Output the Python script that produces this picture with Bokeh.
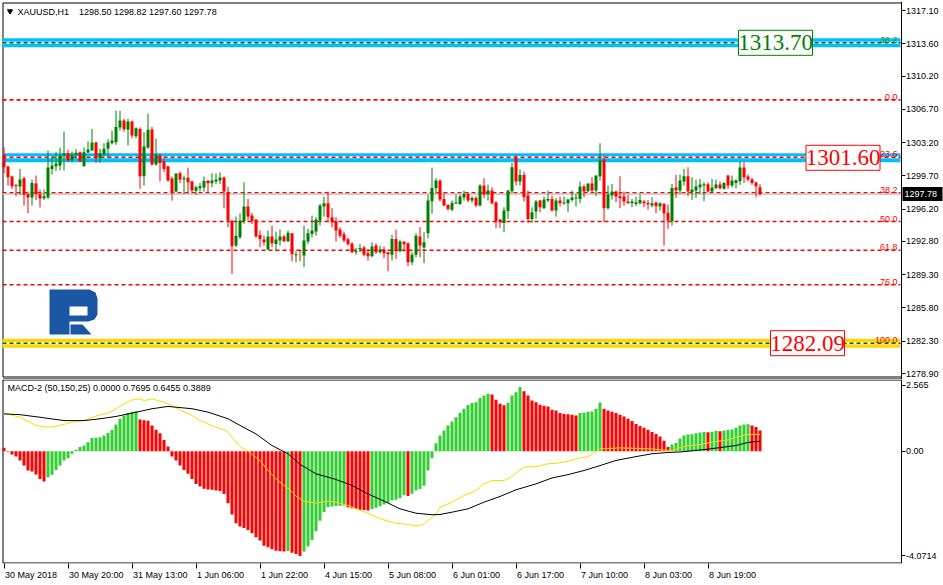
import numpy as np
from bokeh.plotting import figure
from bokeh.layouts import column
from bokeh.models import Range1d, Label, FixedTicker
from bokeh.core.properties import value
from bokeh.embed import file_html
from bokeh.resources import INLINE

# ---------------- data ----------------
symbol = "XAUUSD,H1"
last_ohlc = ["1298.50", "1298.82", "1297.60", "1297.78"]
time_labels = ["30 May 2018", "30 May 20:00", "31 May 13:00", "1 Jun 06:00", "1 Jun 22:00",
               "4 Jun 15:00", "5 Jun 08:00", "6 Jun 01:00", "6 Jun 17:00", "7 Jun 10:00",
               "8 Jun 03:00", "8 Jun 19:00"]
time_label_bars = [0, 16, 32, 48, 64, 80, 96, 112, 128, 144, 160, 176]
price_ticks = [1317.10, 1313.60, 1310.20, 1306.70, 1303.20, 1299.70, 1296.20, 1292.80,
               1289.30, 1285.80, 1282.30, 1278.90]
macd_ticks = [2.565, 0.0, -4.0714]
macd_tick_labels = ["2.565", "0.00", "-4.0714"]

opens = [1301.91, 1300.68, 1299.63, 1298.71, 1298.57, 1299.45, 1297.77, 1297.42, 1298.89, 1297.77,
         1297.35, 1297.42, 1300.43, 1300.71, 1300.78, 1301.84, 1302.08, 1301.35, 1301.91, 1302.19,
         1300.71, 1302.15, 1302.36, 1303.21, 1301.56, 1301.94, 1302.54, 1303.13, 1303.24, 1304.78,
         1305.52, 1304.57, 1305.42, 1303.87, 1304.64, 1299.66, 1302.68, 1304.57, 1300.89, 1301.84,
         1301.20, 1300.68, 1299.42, 1298.05, 1299.98, 1299.31, 1299.49, 1299.10, 1298.12, 1298.40,
         1298.47, 1299.20, 1298.92, 1299.10, 1299.20, 1299.52, 1297.98, 1295.00, 1292.36, 1293.24,
         1294.92, 1296.47, 1295.52, 1295.10, 1293.48, 1292.99, 1291.94, 1293.31, 1292.54, 1292.89,
         1293.31, 1292.82, 1293.66, 1291.34, 1291.91, 1291.31, 1292.78, 1293.59, 1293.84, 1295.00,
         1296.47, 1296.82, 1295.34, 1294.92, 1294.05, 1293.56, 1293.03, 1292.57, 1291.66, 1291.94,
         1292.15, 1291.55, 1291.24, 1292.36, 1291.66, 1291.94, 1291.66, 1291.41, 1293.06, 1291.77,
         1292.78, 1292.61, 1290.61, 1291.41, 1293.31, 1292.15, 1293.66, 1297.03, 1298.40, 1299.20,
         1297.27, 1296.64, 1296.12, 1296.82, 1296.75, 1297.42, 1297.80, 1297.10, 1297.38, 1296.57,
         1298.68, 1297.77, 1298.15, 1296.89, 1295.10, 1294.75, 1296.01, 1298.08, 1301.66, 1299.10,
         1299.80, 1297.63, 1295.17, 1295.94, 1297.10, 1296.29, 1297.10, 1297.27, 1296.05, 1297.10,
         1296.82, 1296.82, 1297.17, 1297.31, 1297.27, 1298.57, 1298.08, 1298.89, 1298.15, 1299.66,
         1301.42, 1296.29, 1297.63, 1298.05, 1297.56, 1297.52, 1296.99, 1296.82, 1296.75, 1296.82,
         1296.99, 1296.85, 1296.57, 1296.89, 1296.47, 1296.75, 1295.80, 1294.92, 1298.47, 1298.15,
         1299.10, 1299.66, 1297.98, 1298.15, 1298.50, 1298.68, 1298.82, 1298.05, 1298.40, 1298.78,
         1298.33, 1299.73, 1298.68, 1298.96, 1299.13, 1300.57, 1299.63, 1299.31, 1298.99, 1298.50]
highs = [1302.71, 1300.78, 1299.73, 1298.85, 1300.43, 1299.63, 1298.05, 1299.31, 1299.73, 1298.26,
         1298.26, 1302.36, 1301.77, 1302.19, 1302.68, 1304.36, 1302.47, 1302.26, 1302.54, 1302.26,
         1302.68, 1303.31, 1304.64, 1303.31, 1302.54, 1303.13, 1303.56, 1304.47, 1306.57, 1306.54,
         1305.70, 1305.70, 1305.52, 1304.82, 1304.82, 1304.29, 1306.26, 1304.85, 1303.59, 1302.01,
         1301.49, 1300.78, 1299.63, 1299.94, 1300.15, 1299.73, 1300.57, 1299.20, 1298.68, 1298.96,
         1299.63, 1299.20, 1299.98, 1299.98, 1300.08, 1299.63, 1298.57, 1295.00, 1295.41, 1295.77,
         1299.03, 1297.27, 1295.80, 1295.10, 1293.94, 1293.41, 1293.94, 1294.47, 1293.84, 1294.05,
         1293.49, 1293.94, 1293.66, 1291.77, 1291.91, 1294.47, 1294.12, 1295.52, 1295.34, 1296.75,
         1297.52, 1298.05, 1296.29, 1295.34, 1294.29, 1293.84, 1293.20, 1292.71, 1292.12, 1292.54,
         1292.36, 1291.94, 1292.71, 1292.61, 1292.36, 1292.26, 1291.66, 1293.49, 1294.05, 1292.99,
         1292.78, 1292.71, 1291.66, 1293.66, 1294.29, 1293.77, 1297.70, 1300.57, 1299.45, 1299.31,
         1297.87, 1296.71, 1297.10, 1297.73, 1297.70, 1298.15, 1297.98, 1297.56, 1297.56, 1298.82,
         1299.45, 1298.78, 1298.50, 1297.03, 1295.17, 1296.40, 1298.22, 1301.06, 1301.84, 1300.36,
         1300.15, 1298.15, 1296.40, 1297.17, 1297.17, 1297.52, 1298.15, 1297.63, 1297.35, 1297.52,
         1297.52, 1297.27, 1298.15, 1297.80, 1299.10, 1298.78, 1298.89, 1299.56, 1299.73, 1303.13,
         1301.84, 1298.68, 1298.85, 1298.15, 1299.66, 1298.05, 1297.70, 1297.27, 1297.52, 1297.73,
         1297.17, 1297.17, 1297.45, 1296.99, 1296.92, 1296.85, 1296.68, 1298.85, 1299.80, 1299.84,
         1300.43, 1300.61, 1299.56, 1299.31, 1299.38, 1299.03, 1299.03, 1299.38, 1299.31, 1299.10,
         1299.03, 1299.80, 1299.73, 1299.31, 1301.20, 1301.13, 1299.84, 1299.49, 1299.10, 1298.82]
lows = [1299.98, 1298.68, 1298.33, 1297.55, 1297.70, 1296.57, 1295.77, 1296.57, 1297.17, 1296.36,
        1297.17, 1297.27, 1299.84, 1300.19, 1300.26, 1300.26, 1301.20, 1301.13, 1301.49, 1301.13,
        1300.68, 1302.12, 1302.36, 1301.06, 1301.06, 1301.84, 1301.66, 1302.99, 1302.96, 1304.47,
        1304.36, 1302.89, 1303.66, 1303.66, 1298.33, 1298.68, 1302.54, 1300.78, 1300.78, 1299.10,
        1300.08, 1299.10, 1297.10, 1297.98, 1298.92, 1297.80, 1297.87, 1297.98, 1297.70, 1298.05,
        1298.05, 1297.98, 1298.50, 1298.85, 1298.85, 1296.29, 1294.29, 1289.38, 1292.19, 1293.06,
        1294.64, 1295.00, 1294.64, 1293.20, 1292.19, 1292.36, 1291.94, 1292.19, 1291.77, 1292.36,
        1292.71, 1292.71, 1290.68, 1290.61, 1290.68, 1290.08, 1292.54, 1293.24, 1293.41, 1294.47,
        1295.41, 1294.82, 1294.29, 1292.78, 1293.17, 1292.71, 1292.36, 1291.59, 1291.41, 1291.66,
        1291.24, 1290.78, 1291.13, 1291.48, 1291.52, 1291.03, 1289.66, 1290.78, 1290.96, 1291.66,
        1291.73, 1290.19, 1290.33, 1291.13, 1291.13, 1290.50, 1293.13, 1295.70, 1297.80, 1297.00,
        1296.50, 1296.05, 1295.98, 1296.75, 1296.64, 1297.10, 1296.92, 1296.85, 1296.40, 1296.50,
        1297.35, 1297.10, 1296.68, 1294.19, 1294.22, 1293.77, 1295.17, 1297.91, 1298.68, 1298.68,
        1297.00, 1294.75, 1294.75, 1295.17, 1295.87, 1296.22, 1296.92, 1295.94, 1295.41, 1296.47,
        1296.64, 1295.87, 1296.99, 1296.47, 1296.82, 1297.45, 1297.98, 1297.91, 1297.56, 1299.20,
        1294.82, 1296.15, 1297.20, 1296.92, 1296.29, 1296.57, 1296.78, 1296.40, 1296.50, 1296.68,
        1296.40, 1296.15, 1296.40, 1295.77, 1296.05, 1292.36, 1294.12, 1294.47, 1297.38, 1297.80,
        1298.68, 1297.56, 1297.17, 1297.35, 1297.80, 1297.03, 1297.98, 1297.91, 1298.33, 1298.26,
        1298.26, 1298.33, 1298.50, 1298.40, 1298.75, 1298.96, 1299.13, 1298.75, 1297.45, 1297.60]
closes = [1300.61, 1299.56, 1298.61, 1298.61, 1299.31, 1297.70, 1297.42, 1298.96, 1297.77, 1297.31,
          1297.56, 1300.57, 1300.78, 1300.99, 1301.84, 1302.08, 1301.31, 1301.91, 1302.12, 1301.24,
          1302.19, 1302.47, 1303.21, 1301.56, 1302.08, 1302.54, 1303.21, 1303.42, 1304.85, 1305.52,
          1304.61, 1305.42, 1303.94, 1304.71, 1299.66, 1302.78, 1304.54, 1300.89, 1301.91, 1301.06,
          1300.43, 1299.20, 1297.98, 1299.94, 1299.31, 1299.45, 1299.03, 1298.15, 1298.50, 1298.61,
          1299.17, 1298.92, 1299.20, 1299.31, 1299.52, 1298.05, 1295.00, 1292.29, 1293.41, 1295.00,
          1296.47, 1295.42, 1294.92, 1293.31, 1293.06, 1292.71, 1293.31, 1292.61, 1292.99, 1293.31,
          1292.82, 1293.70, 1291.45, 1291.45, 1291.80, 1292.89, 1293.66, 1293.94, 1295.10, 1296.57,
          1296.82, 1295.34, 1294.82, 1293.94, 1293.41, 1292.89, 1292.50, 1291.66, 1291.77, 1292.12,
          1291.41, 1291.24, 1292.26, 1291.66, 1291.94, 1291.55, 1291.45, 1293.06, 1291.77, 1292.78,
          1292.50, 1290.61, 1291.41, 1293.41, 1292.36, 1292.71, 1297.10, 1298.43, 1299.20, 1297.20,
          1296.57, 1296.22, 1296.85, 1296.89, 1297.52, 1297.80, 1297.10, 1297.38, 1296.57, 1298.68,
          1297.70, 1298.15, 1296.82, 1294.92, 1294.82, 1296.05, 1298.15, 1300.61, 1299.10, 1299.80,
          1297.45, 1295.17, 1295.87, 1297.00, 1296.40, 1297.20, 1297.27, 1296.05, 1297.10, 1296.82,
          1296.89, 1297.20, 1297.42, 1297.42, 1298.57, 1298.05, 1298.89, 1298.15, 1299.73, 1301.31,
          1296.29, 1297.73, 1298.05, 1297.52, 1297.35, 1296.99, 1296.82, 1296.99, 1296.92, 1297.17,
          1296.82, 1296.71, 1296.82, 1296.50, 1296.82, 1295.77, 1295.00, 1298.43, 1298.15, 1299.20,
          1299.66, 1298.05, 1298.26, 1298.57, 1298.78, 1298.82, 1298.05, 1298.47, 1298.78, 1298.40,
          1298.96, 1298.68, 1299.20, 1299.24, 1300.57, 1299.56, 1299.31, 1298.96, 1298.61, 1297.78]

hist = [0.13, -0.02, -0.13, -0.21, -0.36, -0.56, -0.75, -0.79, -0.91, -1.08,
        -1.18, -1.01, -0.92, -0.73, -0.56, -0.36, -0.27, -0.10, 0.06, 0.16,
        0.22, 0.35, 0.51, 0.52, 0.54, 0.61, 0.71, 0.83, 1.04, 1.26,
        1.39, 1.48, 1.53, 1.55, 1.23, 1.20, 1.18, 1.00, 0.83, 0.70,
        0.44, 0.18, -0.21, -0.36, -0.56, -0.73, -0.88, -1.08, -1.27, -1.37,
        -1.46, -1.49, -1.50, -1.53, -1.55, -1.66, -2.02, -2.46, -2.80, -2.93,
        -2.98, -3.06, -3.19, -3.34, -3.47, -3.67, -3.73, -3.81, -3.87, -3.89,
        -3.90, -3.88, -3.95, -4.00, -4.07, -3.90, -3.70, -3.45, -3.10, -2.70,
        -2.36, -2.17, -2.15, -2.13, -2.12, -2.11, -2.18, -2.22, -2.25, -2.28,
        -2.29, -2.30, -2.25, -2.20, -2.14, -2.07, -2.01, -1.92, -1.89, -1.82,
        -1.70, -1.74, -1.65, -1.53, -1.47, -1.34, -0.75, -0.26, 0.31, 0.61,
        0.80, 1.00, 1.15, 1.32, 1.48, 1.65, 1.80, 1.87, 1.90, 2.07,
        2.16, 2.23, 2.20, 2.00, 1.84, 1.79, 1.88, 2.16, 2.29, 2.50,
        2.33, 2.16, 1.97, 1.90, 1.81, 1.77, 1.74, 1.61, 1.58, 1.48,
        1.45, 1.44, 1.42, 1.39, 1.48, 1.49, 1.53, 1.54, 1.65, 1.89,
        1.65, 1.58, 1.53, 1.48, 1.42, 1.35, 1.26, 1.17, 1.06, 0.98,
        0.91, 0.83, 0.75, 0.67, 0.57, 0.41, 0.16, 0.26, 0.32, 0.49,
        0.61, 0.65, 0.66, 0.70, 0.73, 0.75, 0.74, 0.76, 0.79, 0.78,
        0.80, 0.82, 0.84, 0.91, 1.00, 1.04, 1.05, 1.00, 0.94, 0.80]

yellow_bars = [0, 4, 8, 11, 14, 17, 20, 22, 24, 26, 28, 30, 32, 34, 35, 37, 38, 40, 42, 44,
               47, 49, 51, 53, 55, 56, 57, 59, 61, 62, 64, 66, 68, 70, 72, 73, 75, 78, 81, 83,
               86, 88, 91, 93, 96, 98, 101, 103, 105, 106, 108, 109, 112, 115, 118, 120, 122, 125, 127, 129,
               130, 133, 136, 138, 141, 143, 146, 148, 149, 154, 162, 164, 167, 169, 171, 174, 177, 181, 183, 186,
               189]
yellow_vals = [1.48, 1.32, 1.00, 0.93, 1.00, 1.13, 1.19, 1.32, 1.41, 1.48, 1.65, 1.84, 1.99, 2.03, 1.97, 2.03, 1.99, 1.90, 1.77, 1.61,
               1.39, 1.19, 1.06, 0.93, 0.83, 0.74, 0.54, 0.18, 0.00, -0.12, -0.36, -0.75, -1.08, -1.33, -1.58, -1.75, -1.94, -2.02, -1.94, -1.98,
               -2.11, -2.24, -2.41, -2.56, -2.72, -2.80, -2.85, -2.90, -2.85, -2.69, -2.46, -2.18, -1.98, -1.72, -1.53, -1.27, -1.14, -1.14, -0.98, -0.73,
               -0.62, -0.60, -0.49, -0.47, -0.39, -0.30, -0.21, -0.01, 0.09, 0.13, 0.09, 0.05, 0.03, 0.13, 0.21, 0.26, 0.35, 0.44, 0.54, 0.65,
               0.65]
black_bars = [0, 4, 9, 15, 20, 24, 28, 32, 37, 41, 43, 47, 51, 56, 59, 63, 67, 71, 74, 78,
              83, 87, 91, 95, 99, 103, 107, 109, 112, 116, 120, 124, 128, 133, 137, 141, 145, 149, 153, 158,
              162, 166, 169, 173, 176, 180, 183, 186, 189]
black_vals = [1.45, 1.42, 1.32, 1.19, 1.19, 1.26, 1.35, 1.48, 1.65, 1.74, 1.71, 1.65, 1.52, 1.26, 1.00, 0.67, 0.22, -0.10, -0.51, -0.88,
              -1.10, -1.33, -1.66, -1.94, -2.24, -2.41, -2.47, -2.46, -2.37, -2.24, -1.98, -1.76, -1.50, -1.27, -1.04, -0.91, -0.75, -0.56, -0.36, -0.21,
              -0.10, -0.05, -0.03, 0.03, 0.08, 0.16, 0.22, 0.34, 0.39]

macd_params = "50,150,25"
macd_values = ["0.0000", "0.7695", "0.6455", "0.3889"]

fib_high = 1307.70
fib_low = 1282.09
fib_ratios = [0.0, 23.6, 38.2, 50.0, 61.8, 76.0, 100.0]
ext_level = 1313.70
ext_ratio = 38.2
box_levels = [1313.70, 1301.60, 1282.09]
band_levels = [1313.70, 1301.60, 1282.09]
current_price = 1297.78

# ---------------- style / layout ----------------
FONT = "Liberation Sans"
BIG_FONT = "Liberation Sans Narrow"
GREEN_C = "#008000"
RED_C = "#FF0000"
HIST_UP = "#32CD32"
BLUE_BAND = "#00BFFF"
GOLD = "#FFD700"
DARK_GREEN = "#006400"
SMALL = 9  # px

W = 943
H_MAIN = 379
H_MACD = 585 - H_MAIN
BAR_PX = 4.0
# main frame: pixels 1..943 x 1..379 ; bar i is centred on pixel 3.5 + 4 i
FX0, FY0, FY1 = 1, 1, 379
X0 = (FX0 - 3.5) / BAR_PX
X1 = X0 + (W - FX0) / BAR_PX
PX_PER_USD = 9.503
Y1 = 1317.10 + (10 - FY0) / PX_PER_USD
Y0 = 1317.10 - (FY1 - 10) / PX_PER_USD
# MACD frame: pixels 379..563 (page), zero line at 450.7
MT, MB = 379, 563
PX_PER_UNIT = 25.73
M1 = (450.7 - MT) / PX_PER_UNIT
M0 = -(MB - 450.7) / PX_PER_UNIT

AXIS_PX = 900.5   # price axis line
LEFT_PX = 2.5     # left border line

# approximate Liberation Sans advance widths (em) for label placement
CHAR_EM = {c: 0.556 for c in "0123456789"}
CHAR_EM.update({" ": 0.278, ":": 0.278, ".": 0.278, "M": 0.833, "a": 0.556, "y": 0.5,
                "J": 0.5, "u": 0.556, "n": 0.556})


def text_px(s, size=SMALL):
    return sum(CHAR_EM.get(ch, 0.556) for ch in s) * size


def dx(px):
    return X0 + (px - FX0) / BAR_PX


def dy(py):
    return Y1 - (py - FY0) * (Y1 - Y0) / (FY1 - FY0)


def dym(py):
    return M1 - (py - MT) * (M1 - M0) / (MB - MT)


def style_axis(ax, tick_out):
    ax.axis_line_color = "black"
    ax.major_tick_line_color = "black"
    ax.minor_tick_line_color = "black"
    ax.major_tick_out = tick_out
    ax.major_tick_in = 0
    ax.minor_tick_out = 0
    ax.minor_tick_in = 0
    ax.major_label_text_font = FONT
    ax.major_label_text_font_size = f"{SMALL}px"
    ax.major_label_text_color = "black"
    ax.major_label_standoff = 1


n = len(opens)
idx = np.arange(n)
o = np.array(opens); h = np.array(highs); l = np.array(lows); c = np.array(closes)
cand_col = np.where(c >= o, GREEN_C, RED_C)
top = np.maximum(o, c)
bot = np.minimum(o, c)
bot = np.where(top - bot < 0.1, top - 0.1, bot)

XL, XR = dx(2), dx(900)   # horizontal extent of the price area

# ---------------- main chart ----------------
p = figure(width=W, height=H_MAIN, x_range=Range1d(X0, X1), y_range=Range1d(Y0, Y1),
           output_backend="svg", toolbar_location=None, x_axis_location=None,
           y_axis_location="right", min_border_left=FX0, min_border_top=FY0,
           min_border_right=0, min_border_bottom=0)
p.grid.visible = False
p.outline_line_color = None
p.background_fill_color = "white"
p.border_fill_color = "white"
ya = p.yaxis[0]
ya.ticker = FixedTicker(ticks=price_ticks)
ya.major_label_overrides = {t: f"{t:.2f}" for t in price_ticks}
ya.fixed_location = dx(AXIS_PX)
style_axis(ya, 4)

# chart borders (top, left, bottom, and upper line of the indicator separator)
p.segment(x0=[dx(LEFT_PX), dx(LEFT_PX), dx(LEFT_PX), dx(LEFT_PX)],
          y0=[dy(2.5), dy(2.5), dy(376.5), dy(378.5)],
          x1=[dx(AXIS_PX), dx(LEFT_PX), dx(AXIS_PX), dx(AXIS_PX)],
          y1=[dy(2.5), dy(376.5), dy(376.5), dy(378.5)],
          line_color="black", line_width=1)

# bands (horizontal support/resistance lines)
band_colors = [BLUE_BAND, BLUE_BAND, GOLD]
nb = len(band_levels)
p.segment(x0=[XL] * nb, y0=band_levels, x1=[XR] * nb, y1=band_levels,
          line_color=band_colors, line_width=9, line_cap="butt")

fib_levels = [fib_high - r / 100.0 * (fib_high - fib_low) for r in fib_ratios]
all_dash_levels = fib_levels + [ext_level]
dash_cols = [DARK_GREEN if r == 100.0 else RED_C for r in fib_ratios] + [DARK_GREEN]
under = [lv for lv in all_dash_levels if any(abs(lv - b) < 0.2 for b in band_levels)]
p.segment(x0=[XL] * len(under), y0=under, x1=[XR] * len(under), y1=under,
          line_color="white", line_width=2)
p.segment(x0=[XL] * len(all_dash_levels), y0=all_dash_levels, x1=[XR] * len(all_dash_levels),
          y1=all_dash_levels, line_color=dash_cols, line_width=1.6, line_dash="4 3")
p.segment(x0=[XL], y0=[current_price], x1=[XR], y1=[current_price], line_color="#C0C0C0", line_width=1.5)

# candles
p.segment(x0=idx, y0=l, x1=idx, y1=h, line_color=cand_col, line_width=1)
p.vbar(x=idx, width=0.75, top=top, bottom=bot, fill_color=cand_col, line_color=None)

# fib labels
p.text(x=[dx(897)] * len(fib_levels), y=fib_levels, text=[f"{r:.1f}" for r in fib_ratios],
       text_align="right", text_baseline="bottom", text_font=value(FONT),
       text_font_size=f"{SMALL}px", text_color=RED_C)
p.text(x=[dx(897)], y=[ext_level], text=[f"{ext_ratio:.1f}"], text_align="right",
       text_baseline="bottom", text_font=value(FONT), text_font_size=f"{SMALL}px", text_color="#2E8B2E")

# level boxes
box_x = [dx(775), dx(842.5), dx(807)]
box_col = [GREEN_C, RED_C, RED_C]
p.rect(x=box_x, y=box_levels, width=74, height=25, width_units="screen", height_units="screen",
       fill_color="white", line_color=box_col, line_width=1)
p.text(x=box_x, y=box_levels, text=[f"{v:.2f}" for v in box_levels], text_align="center",
       text_baseline="middle", text_font=value(BIG_FONT), text_font_size="23px", text_color=box_col)

# current price tag on the price axis
p.rect(x=[dx(922)], y=[current_price], width=40, height=14, width_units="screen",
       height_units="screen", fill_color="black", line_color=None)
p.text(x=[dx(904)], y=[current_price], text=[f"{current_price:.2f}"], text_align="left",
       text_baseline="middle", text_font=value(FONT), text_font_size=f"{SMALL}px", text_color="white")

# logo (decoration)
logo_outer = [(49, 289), (89, 289), (95, 292), (97, 298), (97, 314), (94, 319), (88, 321),
              (69, 321), (69, 334), (49, 334)]
logo_hole = [(69, 306), (87, 306), (87, 315), (69, 315)]
logo_leg = [(70, 324), (82, 324), (91, 334), (70, 334)]
p.patch([dx(a) for a, b in logo_outer], [dy(b) for a, b in logo_outer], fill_color="#1a56a4", line_color=None)
p.patch([dx(a) for a, b in logo_hole], [dy(b) for a, b in logo_hole], fill_color="white", line_color=None)
p.patch([dx(a) for a, b in logo_leg], [dy(b) for a, b in logo_leg], fill_color="#1a56a4", line_color=None)

# title
p.scatter(x=[dx(9.5)], y=[dy(10.8)], marker="inverted_triangle", size=5, color="black")
p.add_layout(Label(x=dx(17), y=dy(11), text=symbol, text_font=FONT, text_font_size=f"{SMALL}px",
                   text_baseline="middle", text_color="black"))
p.add_layout(Label(x=dx(78.5), y=dy(11), text=" ".join(last_ohlc), text_font=FONT,
                   text_font_size=f"{SMALL}px", text_baseline="middle", text_color="black"))

# ---------------- MACD panel ----------------
q = figure(width=W, height=H_MACD, x_range=p.x_range, y_range=Range1d(M0, M1),
           output_backend="svg", toolbar_location=None, y_axis_location="right",
           min_border_left=FX0, min_border_top=0, min_border_right=0,
           min_border_bottom=585 - MB)
q.grid.visible = False
q.outline_line_color = None
q.background_fill_color = "white"
q.border_fill_color = "white"
qy = q.yaxis[0]
qy.ticker = FixedTicker(ticks=macd_ticks)
qy.major_label_overrides = dict(zip(macd_ticks, macd_tick_labels))
qy.fixed_location = dx(AXIS_PX)
style_axis(qy, 4)

# time axis: labels start at their tick (MetaTrader style): label centres are shifted right,
# the tick marks themselves are drawn as minor ticks at the bar positions
label_centres = [b + (text_px(t) / 2 + 1) / BAR_PX for b, t in zip(time_label_bars, time_labels)]
qx = q.xaxis[0]
qx.ticker = FixedTicker(ticks=label_centres, minor_ticks=time_label_bars)
qx.major_label_overrides = dict(zip(label_centres, time_labels))
style_axis(qx, 0)
qx.axis_line_color = None
qx.minor_tick_out = 5
qx.major_label_standoff = 1

q.segment(x0=[dx(LEFT_PX), dx(LEFT_PX), dx(LEFT_PX)],
          y0=[dym(379.5), dym(379.5), dym(562.5)],
          x1=[dx(AXIS_PX), dx(LEFT_PX), dx(AXIS_PX)],
          y1=[dym(379.5), dym(562.5), dym(562.5)],
          line_color="black", line_width=1)

hv = np.array(hist)
hcol = [RED_C] + [HIST_UP if hv[i] > hv[i - 1] else RED_C for i in range(1, len(hv))]
q.vbar(x=idx, width=0.75, top=hv, bottom=0, fill_color=hcol, line_color=None)
q.line(yellow_bars, yellow_vals, line_color=GOLD, line_width=1)
q.line(black_bars, black_vals, line_color="black", line_width=1)
q.add_layout(Label(x=dx(7), y=dym(387),
                   text=f"MACD-2 ({macd_params}) " + " ".join(macd_values),
                   text_font=FONT, text_font_size=f"{SMALL}px", text_baseline="middle", text_color="black"))

layout = column(p, q)
open("out.html", "w").write(file_html(layout, INLINE))
